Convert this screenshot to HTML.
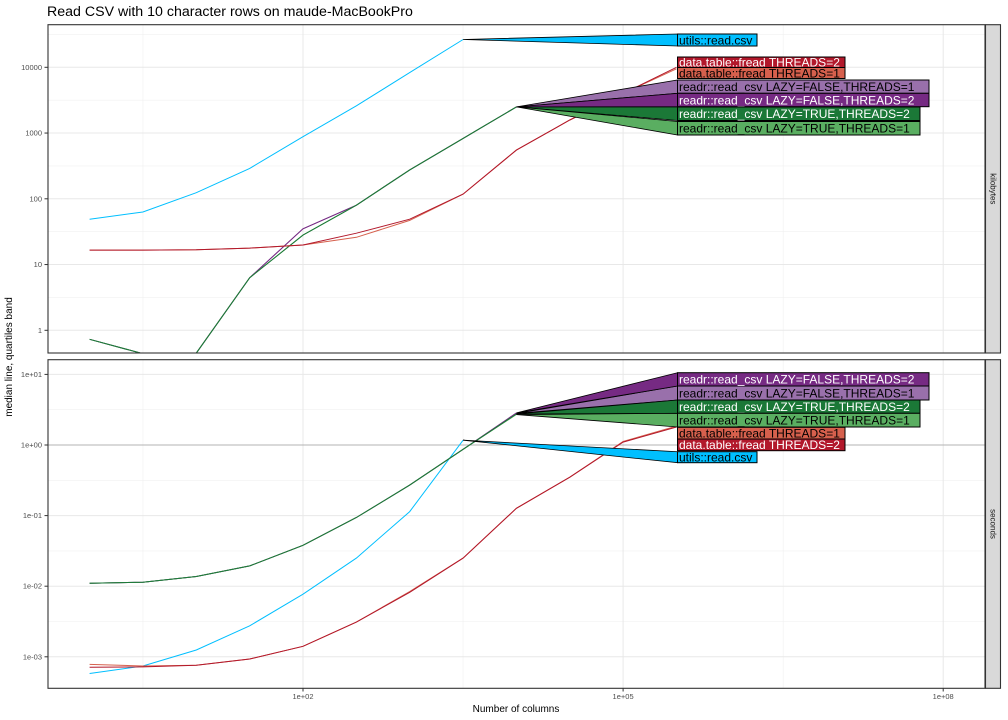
<!DOCTYPE html>
<html><head><meta charset="utf-8">
<style>
html,body{margin:0;padding:0;background:#fff;}
svg{display:block;font-family:"Liberation Sans",Arial,sans-serif;}
</style></head>
<body>
<svg id="chart" width="1008" height="720" viewBox="0 0 1008 720" xmlns="http://www.w3.org/2000/svg">
<defs>
<clipPath id="clipTop"><rect x="48" y="24.7" width="937" height="328.3"/></clipPath>
<clipPath id="clipBot"><rect x="48" y="359.7" width="937" height="328.6"/></clipPath>
</defs>
<rect x="0" y="0" width="1008" height="720" fill="#fff"/>
<text x="47" y="16" font-size="14.2" fill="#000">Read CSV with 10 character rows on maude-MacBookPro</text>
<text x="516" y="712" font-size="10" text-anchor="middle">Number of columns</text>
<text transform="translate(12,357) rotate(-90)" font-size="10" text-anchor="middle">median line, quartiles band</text>
<g id="layer"></g>
</svg>
<script>
// ---- data ----
var xExponents = [0,0.5,1,1.5,2,2.5,3,3.5,4,4.5,5,5.5];
var xTickValues = [1e2,1e5,1e8];
var xTickLabels = ["1e+02","1e+05","1e+08"];
var topTickValues = [1,10,100,1000,10000];
var topTickLabels = ["1","10","100","1000","10000"];
var botTickValues = [1e-3,1e-2,1e-1,1,10];
var botTickLabels = ["1e-03","1e-02","1e-01","1e+00","1e+01"];
var seriesNames = ["utils::read.csv","data.table::fread THREADS=2","data.table::fread THREADS=1","readr::read_csv LAZY=FALSE,THREADS=1","readr::read_csv LAZY=FALSE,THREADS=2","readr::read_csv LAZY=TRUE,THREADS=2","readr::read_csv LAZY=TRUE,THREADS=1"];
var seriesColors = ["#00BFFF","#B2182B","#D6604D","#9970AB","#762A83","#1B7837","#5AAE61"];
var kbUtils = [49,63,124,290,880,2600,8300,26500];
var kbDT2 = [16.6,16.6,16.8,17.8,19.8,30,49,118,550,1580,4000,10000];
var kbDT1 = [16.6,16.6,16.8,17.8,19.8,26,47,118,550,1580,4000,9500];
var kbF1 = [0.73,0.44,0.45,6.3,35,80,275,830,2500];
var kbF2 = [0.73,0.44,0.45,6.3,35,80,275,830,2500];
var kbT2 = [0.73,0.44,0.45,6.3,28,80,275,830,2500];
var kbT1 = [0.73,0.44,0.45,6.3,28,80,275,830,2500];
var secUtils = [0.00058,0.00074,0.00125,0.00275,0.0077,0.025,0.114,1.17];
var secDT2 = [0.00071,0.00072,0.00076,0.00093,0.00141,0.0031,0.0082,0.025,0.127,0.35,1.1,1.8];
var secDT1 = [0.00078,0.00074,0.00076,0.00093,0.00141,0.0031,0.0084,0.025,0.127,0.35,1.12,1.85];
var secF2 = [0.011,0.0114,0.0137,0.0194,0.038,0.094,0.27,0.87,2.85];
var secF1 = [0.011,0.0114,0.0137,0.0194,0.038,0.094,0.27,0.87,2.8];
var secT2 = [0.011,0.0114,0.0137,0.0194,0.038,0.094,0.27,0.87,2.75];
var secT1 = [0.011,0.0114,0.0137,0.0194,0.038,0.094,0.27,0.87,2.7];

var NS = "http://www.w3.org/2000/svg";
var layer = document.getElementById("layer");
function mk(tag, attrs, parent){ var e=document.createElementNS(NS,tag); for(var k in attrs) e.setAttribute(k,attrs[k]); (parent||layer).appendChild(e); return e; }
function xPos(expo){ return 303 + 106.7*(expo-2); }
function xVal(v){ return xPos(Math.log10(v)); }
var panels = [
 {name:"kilobytes", top:24.7, bot:353, y:function(v){return 330.3-65.75*Math.log10(v);}, tv:topTickValues, tl:topTickLabels, clip:"clipTop",
  series:[kbUtils,kbDT2,kbDT1,kbF1,kbF2,kbT2,kbT1],
  boxes:[[34,46],[57,67.5],[67.5,78.5],[80,93.3],[93.3,106.7],[107,120.5],[121.5,135]], minorLo:-0.5, minorHi:4.5, hline:false},
 {name:"seconds", top:359.7, bot:688.3, y:function(v){return 445-70.6*Math.log10(v);}, tv:botTickValues, tl:botTickLabels, clip:"clipBot",
  series:[secUtils,secDT2,secDT1,secF1,secF2,secT2,secT1],
  boxes:[[451.7,462.7],[439,450.7],[427.3,439],[386,400],[372.7,386],[400,413.3],[413.3,427]], minorLo:-3.5, minorHi:0.5, hline:true}
];
var boxRight = [757,845,845,929,929,920,920];
var textWhite = [false,true,false,false,true,true,false];
var boxLeft = 677.5;

panels.forEach(function(p, pi){
  var g = mk("g",{});
  
  
  for(var e=p.minorLo; e<=p.minorHi+0.01; e+=1){
    var yy=p.y(Math.pow(10,e));
    if(yy>p.top && yy<p.bot){ var l=mk("line",{x1:48,x2:985,y1:yy,y2:yy,stroke:"#f0f0f0","stroke-width":0.6},g);
        }
  }
  [0.5,3.5,6.5].forEach(function(ex){ var xx=xPos(ex); var l=mk("line",{x1:xx,x2:xx,y1:p.top,y2:p.bot,stroke:"#f0f0f0","stroke-width":0.6},g);
      });
  xTickValues.forEach(function(v){ var xx=xVal(v); var l=mk("line",{x1:xx,x2:xx,y1:p.top,y2:p.bot,stroke:"#e8e8e8","stroke-width":1},g);
      });
  p.tv.forEach(function(v,i){
    var yy=p.y(v);
    var l=mk("line",{x1:48,x2:985,y1:yy,y2:yy,stroke:(p.hline&&v===1)?"#b3b3b3":"#e8e8e8","stroke-width":1},g);
     
    var t=mk("line",{x1:44.5,x2:48,y1:yy,y2:yy,stroke:"#333","stroke-width":1},g);
     
    var tx=mk("text",{x:42,y:yy+2.5,"font-size":"7.5","text-anchor":"end",fill:"#4d4d4d"},g);
    tx.textContent=p.tl[i];
     
  });
  var lg = mk("g",{"clip-path":"url(#"+p.clip+")"},g);
  var order=[0,3,4,6,5,2,1];
  order.forEach(function(si){
    var arr=p.series[si];
    var pts=arr.map(function(v,i){return xPos(xExponents[i]).toFixed(1)+","+p.y(v).toFixed(1);}).join(" ");
    var pl=mk("polyline",{points:pts,fill:"none",stroke:seriesColors[si],"stroke-width":1},lg);
    
    
  });
  p.series.forEach(function(arr,si){
    var last=arr.length-1, px=xPos(xExponents[last]), py=p.y(arr[last]);
    var b=p.boxes[si];
    if(px<boxLeft-3){
      var poly=mk("polygon",{points:px+","+py+" "+boxLeft+","+b[0]+" "+boxLeft+","+b[1],fill:seriesColors[si],stroke:"#000","stroke-width":0.8},g);
      
      
    }
    var r=mk("rect",{x:boxLeft,y:b[0],width:boxRight[si]-boxLeft,height:b[1]-b[0],fill:seriesColors[si],stroke:"#000","stroke-width":1},g);
    
    
    var t=mk("text",{x:boxLeft+1.5,y:(b[0]+b[1])/2+4.3,"font-size":"12",fill:textWhite[si]?"#fff":"#000"},g);
    t.textContent=seriesNames[si];
    
    
  });
  var br=mk("rect",{x:48,y:p.top,width:937,height:p.bot-p.top,fill:"none",stroke:"#333","stroke-width":1.1},g);
   
  var st=mk("rect",{x:985.5,y:p.top,width:15,height:p.bot-p.top,fill:"#d9d9d9",stroke:"#333","stroke-width":1.1},g);
   
  var cy=(p.top+p.bot)/2;
  var stt=mk("text",{transform:"translate(990.5,"+cy+") rotate(90)","font-size":"8","text-anchor":"middle",fill:"#1a1a1a"},g);
  stt.textContent=p.name;
   
});
xTickValues.forEach(function(v,i){
  var xx=xVal(v);
  var t=mk("line",{x1:xx,x2:xx,y1:688.3,y2:691.5,stroke:"#333","stroke-width":1});
   
  var tx=mk("text",{x:xx,y:699,"font-size":"7.5","text-anchor":"middle",fill:"#4d4d4d"});
  tx.textContent=xTickLabels[i];
   
});
</script>
</body></html>
